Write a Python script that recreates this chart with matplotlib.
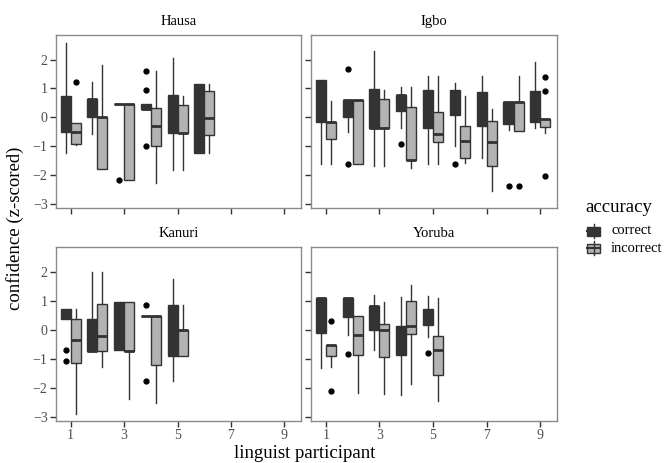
import matplotlib
matplotlib.use("Agg")
import matplotlib.pyplot as plt
import matplotlib.patches as patches

plt.rcParams['font.family'] = ['Liberation Serif', 'DejaVu Serif']

# box stats per participant: (whisker low, q1, median, q3, whisker high)
hausa_correct = [(-1.24, -0.53, 0.0, 0.74, 2.57), (-0.59, 0.0, 0.62, 0.62, 1.21),
                 (0.44, 0.44, 0.44, 0.44, 0.44), (0.30, 0.30, 0.30, 0.47, 0.47),
                 (-1.84, -0.55, 0.45, 0.76, 2.05), (-1.23, -1.23, -0.03, 1.14, 1.14)]
hausa_correct_out = [[], [], [-2.18], [1.61, 0.95, -1.0], [], []]
hausa_incorrect = [(-0.97, -0.93, -0.50, -0.20, -0.20), (-1.79, -1.79, 0.0, 0.0, 1.82),
                   (-2.18, -2.18, 0.44, 0.44, 0.44), (-2.30, -1.0, -0.29, 0.31, 1.61),
                   (-1.84, -0.56, -0.55, 0.43, 0.75), (-1.23, -0.63, -0.03, 0.90, 1.14)]
hausa_incorrect_out = [[1.21], [], [], [], [], []]

igbo_correct = [(-1.62, -0.18, 0.56, 1.28, 1.28), (-0.52, 0.01, 0.59, 0.59, 0.59),
                (-1.70, -0.39, -0.38, 0.97, 2.29), (-0.36, 0.20, 0.76, 0.77, 1.03),
                (-1.62, -0.36, -0.09, 0.93, 1.43), (-1.01, 0.09, 0.71, 0.93, 1.17),
                (-1.43, -0.30, 0.29, 0.86, 1.43), (-0.46, -0.25, 0.51, 0.51, 0.51),
                (-0.38, -0.17, 0.52, 0.91, 1.90)]
igbo_correct_out = [[], [1.68, -1.62], [], [-0.92], [], [-1.61], [], [-2.4], []]
igbo_incorrect = [(-1.62, -0.76, -0.16, -0.16, 0.56), (-1.62, -1.62, 0.59, 0.59, 0.59),
                  (-1.70, -0.39, -0.38, 0.63, 0.95), (-1.75, -1.49, -1.47, 0.34, 1.03),
                  (-1.62, -0.86, -0.60, 0.17, 1.43), (-1.59, -1.43, -0.84, -0.31, 0.75),
                  (-2.57, -1.71, -0.86, -0.14, 0.28), (-0.48, -0.48, 0.51, 0.51, 1.43),
                  (-0.55, -0.34, -0.06, -0.06, -0.06)]
igbo_incorrect_out = [[], [], [], [], [], [], [], [-2.4], [1.40, 0.91, -2.05]]

kanuri_correct = [(0.36, 0.36, 0.55, 0.72, 0.72), (-0.75, -0.75, -0.74, 0.36, 1.98),
                  (-0.70, -0.70, 0.12, 0.95, 0.95), (0.46, 0.46, 0.46, 0.46, 0.46),
                  (-1.77, -0.90, -0.01, 0.86, 1.74)]
kanuri_correct_out = [[-0.71, -1.08], [], [], [0.84, -1.77], []]
kanuri_incorrect = [(-2.90, -1.14, -0.34, 0.36, 0.71), (-1.29, -0.74, -0.21, 0.90, 1.98),
                    (-2.39, -0.72, -0.72, 0.95, 0.95), (-2.52, -1.22, 0.46, 0.46, 0.46),
                    (-0.90, -0.90, -0.01, -0.01, 0.86)]
kanuri_incorrect_out = [[], [], [], [], []]

yoruba_correct = [(-1.31, -0.11, 1.10, 1.10, 1.10), (-0.20, 0.44, 1.10, 1.10, 1.10),
                  (-0.69, -0.01, 0.83, 0.83, 1.20), (-2.26, -0.87, -0.05, 0.13, 1.13),
                  (-0.25, 0.15, 0.34, 0.70, 1.15)]
yoruba_correct_out = [[], [-0.85], [], [], [-0.79]]
yoruba_incorrect = [(-1.30, -0.91, -0.52, -0.52, -0.52), (-2.17, -0.86, -0.20, 0.46, 0.46),
                    (-2.23, -0.94, 0.0, 0.20, 0.97), (-1.86, -0.16, 0.14, 1.00, 1.55),
                    (-2.45, -1.56, -0.71, -0.22, 1.08)]
yoruba_incorrect_out = [[0.31, -2.13], [], [], [], []]

languages = ["Hausa", "Igbo", "Kanuri", "Yoruba"]
panels = {
    "Hausa": (hausa_correct, hausa_correct_out, hausa_incorrect, hausa_incorrect_out),
    "Igbo": (igbo_correct, igbo_correct_out, igbo_incorrect, igbo_incorrect_out),
    "Kanuri": (kanuri_correct, kanuri_correct_out, kanuri_incorrect, kanuri_incorrect_out),
    "Yoruba": (yoruba_correct, yoruba_correct_out, yoruba_incorrect, yoruba_incorrect_out),
}
x_ticks = [1, 3, 5, 7, 9]
y_ticks = [-3, -2, -1, 0, 1, 2]

dark = "#333333"
light = "#b3b3b3"
edge = "#333333"
W, H = 665, 463


def make_stats(rows, outliers):
    stats = []
    for (lo, q1, med, q3, hi), fl in zip(rows, outliers):
        stats.append(dict(whislo=lo, q1=q1, med=med, q3=q3, whishi=hi, fliers=fl))
    return stats


def draw_boxes(ax, stats, positions, fill):
    ax.bxp(stats, positions=positions, widths=0.375, patch_artist=True,
           showcaps=False, manage_ticks=False,
           boxprops=dict(facecolor=fill, edgecolor=edge, linewidth=1.0),
           medianprops=dict(color=edge, linewidth=2.0, solid_capstyle='butt'),
           whiskerprops=dict(color=edge, linewidth=1.0),
           flierprops=dict(marker='o', markerfacecolor='black', markeredgecolor='black',
                           markersize=3.5))


fig = plt.figure(figsize=(W / 100, H / 100), dpi=100)

# panel boxes in pixel coords: left, top, right, bottom
rects = [(56, 35, 301, 208), (311, 35, 557, 208), (56, 247, 301, 421), (311, 247, 557, 421)]

for i, lang in enumerate(languages):
    l, t, r, b = rects[i]
    ax = fig.add_axes([l / W, 1 - b / H, (r - l) / W, (b - t) / H])
    corr, corr_out, inc, inc_out = panels[lang]
    xs = list(range(1, len(corr) + 1))
    draw_boxes(ax, make_stats(corr, corr_out), [x - 0.1875 for x in xs], dark)
    draw_boxes(ax, make_stats(inc, inc_out), [x + 0.1875 for x in xs], light)

    ax.set_xlim(0.45, 9.62)
    ax.set_ylim(-3.15, 2.85)
    ax.set_xticks(x_ticks)
    ax.set_yticks(y_ticks)
    for s in ax.spines.values():
        s.set_color("#8a8a8a")
        s.set_linewidth(1.0)
    ax.tick_params(colors="#333333", length=4, width=1.0, labelsize=10,
                   labelcolor="#4d4d4d", pad=2)
    if i % 2 == 1:
        ax.tick_params(axis='y', labelleft=False)
    if i < 2:
        ax.tick_params(axis='x', labelbottom=False)
    ax.set_title(lang, fontsize=10.5, pad=7)

# shared axis titles
fig.text(305 / W, 1 - 453 / H, "linguist participant", ha='center', va='center', fontsize=13.5)
fig.text(15 / W, 1 - 228 / H, "confidence (z-scored)", ha='center', va='center',
         rotation=90, fontsize=13.5)

# legend drawn in pixel space
lax = fig.add_axes([0, 0, 1, 1])
lax.set_xlim(0, W)
lax.set_ylim(H, 0)
lax.axis('off')
lax.text(585, 208, "accuracy", ha='left', va='center', fontsize=13.5)
for cy, fill, label in [(231, dark, "correct"), (248, light, "incorrect")]:
    lax.plot([593.5, 593.5], [cy - 7, cy + 7], color=edge, lw=1.0)
    lax.add_patch(patches.Rectangle((587, cy - 4.5), 13, 9, facecolor=fill,
                                    edgecolor=edge, lw=1.0))
    lax.plot([587, 600], [cy, cy], color=edge, lw=1.5)
    lax.text(611, cy, label, ha='left', va='center', fontsize=10.5)

fig.savefig("out.png", dpi=100)
